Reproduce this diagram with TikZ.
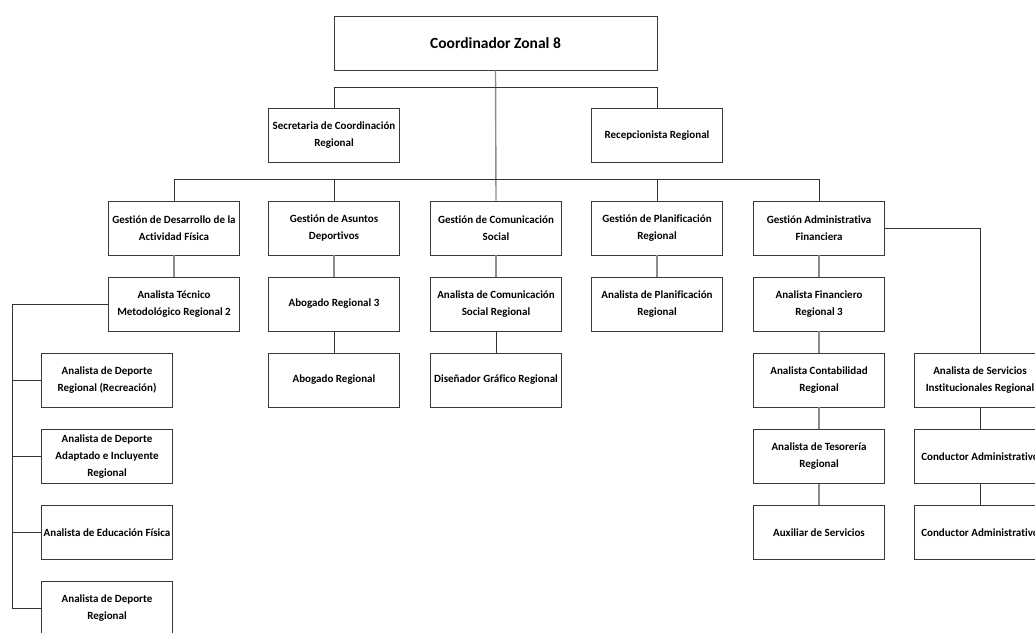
\documentclass[tikz,border=0pt]{standalone}
\usepackage{fontspec}
\setmainfont[Ligatures=NoCommon]{Carlito}
\begin{document}
\begin{tikzpicture}[x=1pt,y=-1pt,
  box/.style={draw=boxc, line width=0.9pt, fill=white, minimum width=131pt, minimum height=54pt,
    inner sep=1pt, align=center, font=\bfseries\fontsize{11}{17}\selectfont, text=black},
  top/.style={box, minimum width=323pt, font=\bfseries\fontsize{15.5}{18}\selectfont},
  dk/.style={draw=darkc, line width=0.8pt},
  gr/.style={draw=grayc, line width=1.4pt}]
\definecolor{boxc}{HTML}{3A3A3A}
\definecolor{darkc}{HTML}{333333}
\definecolor{grayc}{HTML}{8C8C8C}
\useasboundingbox (0,0) rectangle (1035,632);
\clip (0,0) rectangle (1035,632);
% connector corner points
\coordinate (h1l) at (334,87);
\coordinate (h1r) at (657,87);
\coordinate (h2l) at (174,179);
\coordinate (h2r) at (819,179);
\coordinate (sp) at (12,304);
\coordinate (rc) at (980,228);

\node[top] (coord) at (495.5,43) {Coordinador Zonal 8};
\node[box] (sec) at (334,135.5) {Secretaria de Coordinación\\Regional};
\node[box] (rec) at (657,135.5) {Recepcionista Regional};

\node[box] (g1) at (174,228) {Gestión de Desarrollo de la\\Actividad Física};
\node[box] (g2) at (334,228) {Gestión de Asuntos\\Deportivos};
\node[box] (g3) at (496,228) {Gestión de Comunicación\\Social};
\node[box] (g4) at (657,228) {Gestión de Planificación\\Regional};
\node[box] (g5) at (819,228) {Gestión Administrativa\\Financiera};

\node[box] (a1) at (174,304) {Analista Técnico\\Metodológico Regional 2};
\node[box] (a2) at (334,304) {Abogado Regional 3};
\node[box] (a3) at (496,304) {Analista de Comunicación\\Social Regional};
\node[box] (a4) at (657,304) {Analista de Planificación\\Regional};
\node[box] (a5) at (819,304) {Analista Financiero\\Regional 3};

\node[box] (l1) at (107,380) {Analista de Deporte\\Regional (Recreación)};
\node[box] (l2) at (107,456.5) {Analista de Deporte\\Adaptado e Incluyente\\Regional};
\node[box] (l3) at (107,532.5) {Analista de Educación Física};
\node[box] (l4) at (107,608.5) {Analista de Deporte\\Regional};

\node[box] (b2) at (334,380) {Abogado Regional};
\node[box] (b3) at (496,380) {Diseñador Gráfico Regional};
\node[box] (b5) at (819,380) {Analista Contabilidad\\Regional};
\node[box] (c5) at (819,456.5) {Analista de Tesorería\\Regional};
\node[box] (d5) at (819,532.5) {Auxiliar de Servicios};

\node[box] (r1) at (980,380) {Analista de Servicios\\Institucionales Regional};
\node[box] (r2) at (980,456.5) {Conductor Administrativo};
\node[box] (r3) at (980,532.5) {Conductor Administrativo};

% lines
\draw[gr] (coord.south) -- (g3.north);
\draw[dk] (sec.north) |- (h1l) -- (h1r) -| (rec.north);
\draw[dk] (h2l) -- (h2r);
\draw[dk] (h2l) -- (g1.north);
\draw[dk] (g2.north |- h2l) -- (g2.north);
\draw[dk] (g4.north |- h2l) -- (g4.north);
\draw[dk] (h2r) -- (g5.north);
\draw[gr] (g1) -- (a1);
\draw[gr] (g2) -- (a2);
\draw[gr] (g3) -- (a3);
\draw[gr] (g4) -- (a4);
\draw[gr] (g5) -- (a5);
\draw[dk] (a2) -- (b2);
\draw[dk] (a3) -- (b3);
\draw[gr] (a5) -- (b5);
\draw[gr] (b5) -- (c5);
\draw[gr] (c5) -- (d5);
\draw[dk] (a1.west) -- (sp) |- (l4.west);
\draw[dk] (sp |- l1.west) -- (l1.west);
\draw[dk] (sp |- l2.west) -- (l2.west);
\draw[dk] (sp |- l3.west) -- (l3.west);
\draw[dk] (g5.east) -- (rc) -- (r1.north);
\draw[dk] (r1) -- (r2);
\draw[dk] (r2) -- (r3);
\end{tikzpicture}
\end{document}
